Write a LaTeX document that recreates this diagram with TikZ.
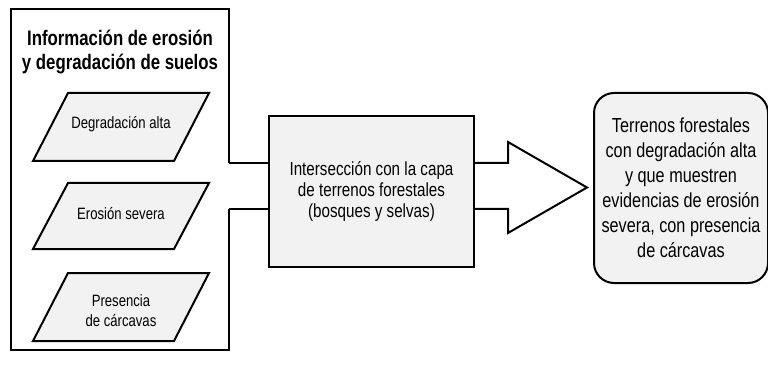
\documentclass[tikz,border=0pt]{standalone}
\usepackage{fontspec}
\setmainfont{Liberation Sans}
\newfontfamily\nar[FakeStretch=0.8]{Liberation Sans}
\definecolor{boxfill}{HTML}{F2F2F2}
\begin{document}
\begin{tikzpicture}[x=1pt,y=-1pt,
  frame/.style={draw=black, line width=2pt, line join=miter},
  shapebox/.style={draw=black, fill=boxfill, line width=2pt, line join=miter},
  titletxt/.style={align=center, inner sep=0pt, font=\nar\bfseries\fontsize{21}{24}\selectfont},
  smalltxt/.style={align=center, inner sep=0pt, font=\nar\fontsize{16.4}{20}\selectfont},
  midtxt/.style={align=center, inner sep=0pt, font=\nar\fontsize{19}{21}\selectfont},
  restxt/.style={align=center, inner sep=0pt, font=\nar\fontsize{20.3}{25}\selectfont}]
\useasboundingbox (0,0) rectangle (768,366);
\fill[white] (0,0) rectangle (768,366);
% outer frame (open between the two connectors)
\coordinate (o1) at (229,163);
\coordinate (o2) at (229,209);
\draw[frame] (o1) -- (229,9) -- (11,9) -- (11,350) -- (229,350) -- (o2);
\node (title) [titletxt] at (120,52) {Información de erosión\\y degradación de suelos};
% parallelograms
\draw[shapebox] (68,93) -- (209,93) -- (174,161) -- (33,161) -- cycle;
\node (p1) [smalltxt] at (121,124) {Degradación alta};
\draw[shapebox] (68,183) -- (209,183) -- (174,249) -- (33,249) -- cycle;
\node (p2) [smalltxt] at (121,214) {Erosión severa};
\draw[shapebox] (68,273) -- (209,273) -- (174,341) -- (33,341) -- cycle;
\node (p3) [smalltxt] at (121,311) {Presencia\\de cárcavas};
% central box
\node (inter) [shapebox, anchor=north west, minimum width=205pt, minimum height=151pt, inner sep=0pt] at (268,115) {};
\node (intertxt) [midtxt] at (inter.center) {Intersección con la capa\\de terrenos forestales\\(bosques y selvas)};
\draw[frame] (o1) -- (o1 -| inter.west);
\draw[frame] (o2) -- (o2 -| inter.west);
% block arrow
\coordinate (h1) at (508,142);
\coordinate (tip) at (587,187.5);
\coordinate (h2) at (508,233);
\draw[frame] (inter.east |- o1) -- (508,163) -- (h1) -- (tip) -- (h2) -- (508,209) -- (inter.east |- o2);
% result box
\node (res) [shapebox, rounded corners=20pt, anchor=north west, minimum width=174pt, minimum height=190pt, inner sep=0pt] at (593,92) {};
\node (restext) [restxt] at (res.center) {Terrenos forestales\\con degradación alta\\y que muestren\\evidencias de erosión\\severa, con presencia\\de cárcavas};
\end{tikzpicture}
\end{document}
